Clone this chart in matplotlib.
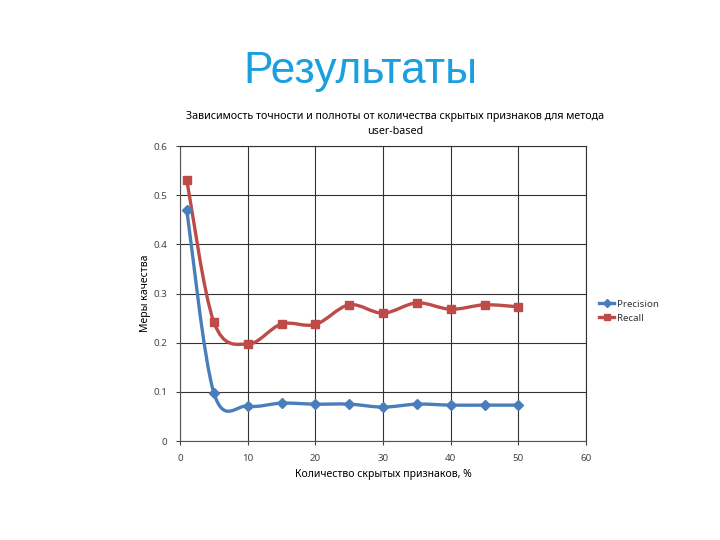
import matplotlib
matplotlib.use("Agg")
import matplotlib.pyplot as plt
from matplotlib.path import Path
from matplotlib.patches import PathPatch
from matplotlib.lines import Line2D

# share of hidden features, %
features = [1, 5, 10, 15, 20, 25, 30, 35, 40, 45, 50]
precision = [0.470, 0.098, 0.071, 0.077, 0.075, 0.075, 0.069, 0.075, 0.073, 0.073, 0.073]
recall = [0.531, 0.242, 0.197, 0.238, 0.237, 0.277, 0.260, 0.281, 0.268, 0.277, 0.273]

x_ticks = [0, 10, 20, 30, 40, 50, 60]
y_ticks = [0, 0.1, 0.2, 0.3, 0.4, 0.5, 0.6]
y_labels = ["0", "0.1", "0.2", "0.3", "0.4", "0.5", "0.6"]

plt.rcParams['font.family'] = ['Noto Sans', 'DejaVu Sans']


def smooth_path(xs, ys):
    """Excel-like smoothed line as a cubic Bezier path"""
    pts = list(zip(xs, ys))
    verts = [pts[0]]
    codes = [Path.MOVETO]
    n = len(pts)
    for i in range(n - 1):
        p0 = pts[i - 1] if i > 0 else pts[i]
        p1 = pts[i]
        p2 = pts[i + 1]
        p3 = pts[i + 2] if i + 2 < n else pts[i + 1]
        c1 = (p1[0] + (p2[0] - p0[0]) / 6, p1[1] + (p2[1] - p0[1]) / 6)
        c2 = (p2[0] - (p3[0] - p1[0]) / 6, p2[1] - (p3[1] - p1[1]) / 6)
        verts += [c1, c2, p2]
        codes += [Path.CURVE4] * 3
    return Path(verts, codes)


fig = plt.figure(figsize=(7.2, 5.4), dpi=100)
fig.text(0.5, 0.868, "Результаты", ha='center', va='center', fontsize=32,
         color='#1a9fe0', family=['Liberation Sans', 'DejaVu Sans'])

ax = fig.add_axes([0.25, 0.1833, 0.564, 0.5463])

series = [(precision, '#4a7ebb', 'D', 5, 'Precision'),
          (recall, '#be4b48', 's', 6, 'Recall')]
handles = []
for vals, col, mk, ms, name in series:
    ax.add_patch(PathPatch(smooth_path(features, vals), facecolor='none',
                           edgecolor=col, lw=2.4, zorder=3))
    ax.plot(features, vals, linestyle='none', marker=mk, markersize=ms,
            color=col, zorder=4)
    handles.append(Line2D([], [], color=col, lw=2.4, marker=mk, markersize=ms - 1, label=name))

ax.set_xlim(0, 60)
ax.set_ylim(0, 0.6)
ax.set_xticks(x_ticks)
ax.set_yticks(y_ticks)
ax.set_yticklabels(y_labels)
ax.grid(True, color='#333333', lw=0.8)
ax.set_axisbelow(True)
for side in ['top', 'right']:
    ax.spines[side].set_color('#333333')
    ax.spines[side].set_linewidth(0.8)
for side in ['left', 'bottom']:
    ax.spines[side].set_color('#555555')
ax.tick_params(labelsize=7, colors='#444444', length=3, pad=6)

ax.set_xlabel("Количество скрытых признаков, %", fontsize=7.5, labelpad=5)
ax.set_ylabel("Меры качества", fontsize=7.5, labelpad=2)
ax.set_title("Зависимость точности и полноты от количества скрытых признаков для метода\nuser-based",
             fontsize=7.7, pad=9, x=0.53, linespacing=1.5)

ax.legend(handles=handles, loc='center left', bbox_to_anchor=(1.01, 0.44),
          frameon=False, fontsize=7, handlelength=1.6, handletextpad=0.3,
          labelspacing=0.55, labelcolor='#333333')

fig.savefig("out.png", dpi=100)
